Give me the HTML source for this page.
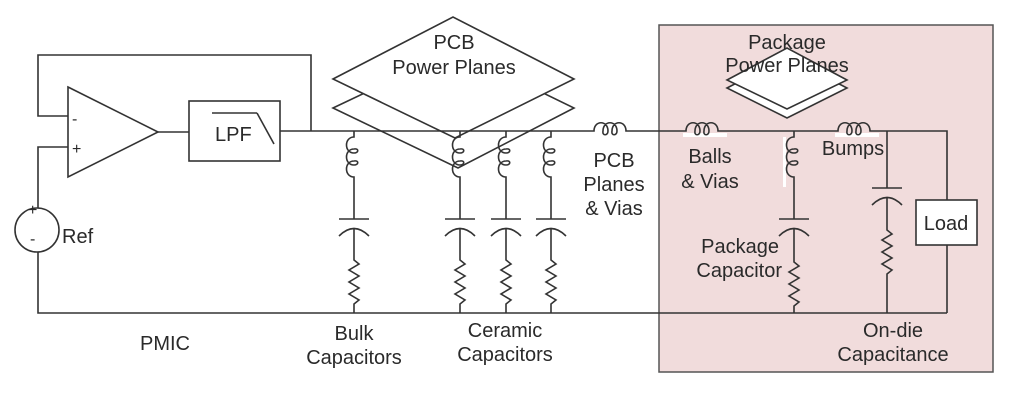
<!DOCTYPE html>
<html><head><meta charset="utf-8"><style>
html,body{margin:0;padding:0;background:#fff;}
svg{display:block;}
text{font-family:"Liberation Sans",Arial,sans-serif;font-size:20px;fill:#2a2a2a;}
</style></head><body>
<svg width="1013" height="405" viewBox="0 0 1013 405" xmlns="http://www.w3.org/2000/svg">
<defs>
<path id="lh" d="M0 0 h4 c0 -11 14 -11 14 0 c0 5 -6 5 -5 0 c0 -11 14 -11 14 0 c0 5 -6 5 -5 0 c0 -11 14 -11 14 0 h6" fill="none"/>
<path id="lv" d="M0 0 v6 c-10 0 -10 16 0 16 c5 0 5 -5 0 -4 c-10 0 -10 16 0 16 c5 0 5 -5 0 -4 c-10 0 -10 16 0 16 v10" fill="none"/>
</defs>
<rect x="659" y="25" width="334" height="347" fill="#f1dcdc" stroke="#555" stroke-width="1.5"/>
<g stroke="#333" stroke-width="1.6" fill="none">
<polygon points="333,108 455,50 574,108 458,168" fill="#fff"/>
<polygon points="333,79 453,17 574,79 455,138" fill="#fff"/>
<polygon points="727,88 787,57 847,88 787,118" fill="#fff"/>
<polygon points="727,80 787,48 847,80 787,109" fill="#fff"/>
<polyline points="311,131 311,55 38,55 38,116 68,116"/>
<polyline points="68,147 38,147 38,208"/>
<polyline points="38,252 38,313 947,313"/>
<circle cx="37" cy="230" r="22" fill="#fff"/>
<polygon points="68,87 158,132 68,177" fill="#fff"/>
<line x1="158" y1="132" x2="189" y2="132"/>
<rect x="189" y="101" width="91" height="60" fill="#fff"/>
<line x1="212" y1="113" x2="257" y2="113"/>
<line x1="257" y1="113" x2="274" y2="144"/>
<line x1="280" y1="131" x2="590" y2="131"/>
<use href="#lh" x="590" y="131"/>
<line x1="632" y1="131" x2="682" y2="131"/>
<rect x="683" y="133" width="44" height="4" fill="#fff" stroke="none"/>
<use href="#lh" x="682" y="131"/>
<line x1="724" y1="131" x2="834" y2="131"/>
<rect x="835" y="133" width="44" height="4" fill="#fff" stroke="none"/>
<use href="#lh" x="834" y="131"/>
<polyline points="876,131 947,131 947,200"/>
<line x1="947" y1="245" x2="947" y2="313"/>
<rect x="916" y="200" width="61" height="45" fill="#fff"/>
<g id="br">
<use href="#lv" x="354" y="131"/>
<line x1="354" y1="187" x2="354" y2="219"/>
<line x1="339" y1="219" x2="369" y2="219"/>
<path d="M339 236 Q354 221 369 236"/>
<polyline points="354,228 354,260 359,264 349,270 359,276 349,282 359,288 349,294 359,300 354,304 354,313"/>
</g>
<use href="#br" x="106"/>
<use href="#br" x="152"/>
<use href="#br" x="197"/>
<rect x="783" y="137" width="3" height="50" fill="#fff" stroke="none"/>
<use href="#lv" x="794" y="131"/>
<line x1="794" y1="187" x2="794" y2="219"/>
<line x1="779" y1="219" x2="809" y2="219"/>
<path d="M779 236 Q794 221 809 236"/>
<polyline points="794,228 794,262 799,266 789,272 799,278 789,284 799,290 789,296 799,302 794,306 794,313"/>
<line x1="887" y1="131" x2="887" y2="188"/>
<line x1="872" y1="188" x2="902" y2="188"/>
<path d="M872 205 Q887 190 902 205"/>
<polyline points="887,197 887,230 892,234 882,240 892,246 882,252 892,258 882,264 892,270 887,274 887,313"/>
</g>
<text x="28" y="215" style="font-size:16px">+</text>
<text x="30" y="244" style="font-size:16px">-</text>
<text x="72" y="124" style="font-size:16px">-</text>
<text x="72" y="154" style="font-size:16px">+</text>
<text x="62" y="243">Ref</text>
<text x="215" y="141">LPF</text>
<text x="946" y="230" text-anchor="middle">Load</text>
<g text-anchor="middle">
<text x="454" y="49">PCB</text>
<text x="454" y="74">Power Planes</text>
<text x="787" y="49">Package</text>
<text x="787" y="72">Power Planes</text>
<text x="614" y="167">PCB</text>
<text x="614" y="191">Planes</text>
<text x="614" y="215">&amp; Vias</text>
<text x="710" y="163">Balls</text>
<text x="710" y="188">&amp; Vias</text>
<text x="853" y="155">Bumps</text>
<text x="165" y="350">PMIC</text>
<text x="354" y="340">Bulk</text>
<text x="354" y="364">Capacitors</text>
<text x="505" y="337">Ceramic</text>
<text x="505" y="361">Capacitors</text>
<text x="893" y="337">On-die</text>
<text x="893" y="361">Capacitance</text>
</g>
<g text-anchor="end">
<text x="779" y="253">Package</text>
<text x="782" y="277">Capacitor</text>
</g>
</svg>
</body></html>
